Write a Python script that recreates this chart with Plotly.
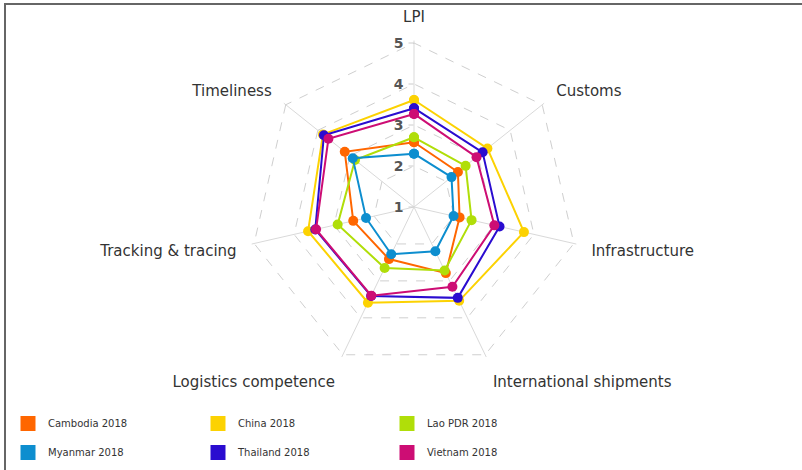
import plotly.graph_objects as go

categories = ["LPI", "Customs", "Infrastructure", "International shipments",
              "Logistics competence", "Tracking & tracing", "Timeliness"]

countries = ["Cambodia 2018", "China 2018", "Lao PDR 2018",
             "Myanmar 2018", "Thailand 2018", "Vietnam 2018"]

cambodia = [2.58, 2.37, 2.14, 2.79, 2.41, 2.52, 3.16]
china = [3.61, 3.29, 3.75, 3.54, 3.59, 3.65, 3.84]
lao = [2.70, 2.61, 2.44, 2.72, 2.65, 2.91, 2.84]
myanmar = [2.30, 2.17, 1.99, 2.20, 2.28, 2.20, 2.91]
thailand = [3.41, 3.14, 3.14, 3.46, 3.41, 3.47, 3.81]
vietnam = [3.27, 2.95, 3.01, 3.16, 3.40, 3.45, 3.67]

series = [cambodia, china, lao, myanmar, thailand, vietnam]
colors = ["#FF6600", "#FCD202", "#B0DE09", "#0D8ECF", "#2A0CD0", "#CD0D74"]
legend_ids = ["legend", "legend2", "legend3", "legend", "legend2", "legend3"]

tick_vals = [1, 2, 3, 4, 5]
tick_text = ["1", "2", "3", "4", "5"]

FONT = "DejaVu Sans"

fig = go.Figure()

for name, vals, col in zip(countries, series, colors):
    fig.add_trace(go.Scatterpolar(
        r=vals + [vals[0]],
        theta=categories + [categories[0]],
        mode="lines+markers",
        name=name,
        line=dict(color=col, width=2),
        marker=dict(color=col, size=10),
        showlegend=False,
        hoverinfo="name+r+theta",
    ))

# legend entries (square swatches)
for name, col, lg in zip(countries, colors, legend_ids):
    fig.add_trace(go.Scatterpolar(
        r=[None], theta=[None],
        mode="markers",
        name=name,
        legendgroup=name,
        legend=lg,
        marker=dict(color=col, size=15, symbol="square"),
        showlegend=True,
    ))

leg_common = dict(
    orientation="v",
    yanchor="top",
    y=0.1298,
    xanchor="left",
    font=dict(family=FONT, size=10, color="#333333"),
    bgcolor="rgba(0,0,0,0)",
    tracegroupgap=10,
    itemwidth=30,
)

R_MAX = 5.06
cx, cy, rad = 414, 207, 164 * (R_MAX - 1) / 4

fig.update_layout(
    width=802,
    height=470,
    margin=dict(l=0, r=0, t=0, b=0),
    paper_bgcolor="white",
    plot_bgcolor="white",
    font=dict(family=FONT, color="#333333"),
    polar=dict(
        domain=dict(x=[(cx - rad) / 802, (cx + rad) / 802],
                    y=[1 - (cy + rad) / 470, 1 - (cy - rad) / 470]),
        bgcolor="white",
        gridshape="linear",
        radialaxis=dict(
            range=[1, R_MAX],
            tickvals=tick_vals,
            ticktext=tick_text,
            angle=90,
            tickangle=90,
            side="counterclockwise",
            ticks="outside",
            ticklen=5,
            tickcolor="#cccccc",
            showline=False,
            gridcolor="#cfcfcf",
            griddash="dash",
            gridwidth=1,
            tickfont=dict(family=FONT, size=14, color="#555555", weight="bold"),
        ),
        angularaxis=dict(
            rotation=90,
            direction="clockwise",
            showline=False,
            gridcolor="#d9d9d9",
            gridwidth=1,
            ticks="outside",
            ticklen=12,
            tickcolor="rgba(0,0,0,0)",
            tickfont=dict(family=FONT, size=15, color="#333333"),
        ),
    ),
    legend=dict(leg_common, x=8 / 802),
    legend2=dict(leg_common, x=198 / 802),
    legend3=dict(leg_common, x=387 / 802),
    shapes=[
        dict(type="line", xref="paper", yref="paper", x0=4 / 802, x1=1, y0=1 - 4 / 470, y1=1 - 4 / 470,
             line=dict(color="#666666", width=2)),
        dict(type="line", xref="paper", yref="paper", x0=5 / 802, x1=5 / 802, y0=0, y1=1 - 4 / 470,
             line=dict(color="#666666", width=2)),
    ],
)

fig.write_html("out.html", post_script="document.body.style.margin='0';",
               config={"displayModeBar": False})
